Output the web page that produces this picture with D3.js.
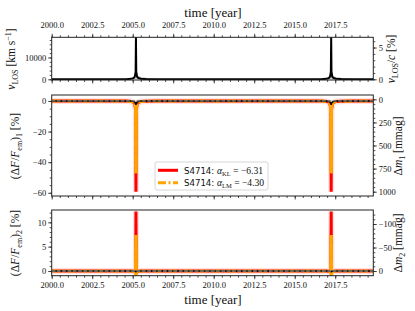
<!DOCTYPE html>
<html>
<head>
<meta charset="utf-8">
<script src="https://cdn.jsdelivr.net/npm/d3@7"></script>
<style>
  body { margin:0; background:#fff; }
  svg text { font-family: "Liberation Serif", serif; fill:#111; }
  .tick text { font-size: 8.5px; }
</style>
</head>
<body>
<div id="chart-area"></div>
<script>
// epochs [year] and the three panels' curves
const years = [2000.0, 2003.0, 2004.6, 2004.9, 2005.05, 2005.13, 2005.18, 2005.2, 2005.22, 2005.27,
  2005.35, 2005.5, 2005.8, 2006.5, 2009.0, 2012.0, 2015.0, 2016.65, 2016.95, 2017.1,
  2017.18, 2017.23, 2017.25, 2017.27, 2017.32, 2017.4, 2017.55, 2017.85, 2018.55, 2019.85];

const vLos = [0, 0, 80, 200, 500, 1200, 3500, 19500, 3500, 1200,
  600, 300, 150, 50, 0, 0, 0, 80, 200, 500,
  1200, 3500, 19500, 3500, 1200, 600, 300, 150, 50, 0];
const vEnvelope = [0, 0, 300, 700, 1200, 1700, 2200, 2500, 2200, 1800,
  1500, 1100, 700, 150, 0, 0, 0, 300, 700, 1200,
  1700, 2200, 2500, 2200, 1800, 1500, 1100, 700, 150, 0];

const dF1KL = [0, 0, -0.1, -0.3, -0.8, -2.0, -6.0, -59.3, -6.0, -2.0,
  -0.9, -0.4, -0.2, -0.05, 0, 0, 0, -0.1, -0.3, -0.8,
  -2.0, -6.0, -59.3, -6.0, -2.0, -0.9, -0.4, -0.2, -0.05, 0];
const dF1LM = [0, 0, -0.1, -0.3, -0.7, -1.6, -4.6, -47.2, -4.6, -1.6,
  -0.7, -0.3, -0.15, -0.05, 0, 0, 0, -0.1, -0.3, -0.7,
  -1.6, -4.6, -47.2, -4.6, -1.6, -0.7, -0.3, -0.15, -0.05, 0];
const dF1Ref = [0, 0, 0, -0.1, -0.3, -0.8, -1.5, -2.5, -1.5, -0.8,
  -0.3, -0.1, 0, 0, 0, 0, 0, 0, -0.1, -0.3,
  -0.8, -1.5, -2.5, -1.5, -0.8, -0.3, -0.1, 0, 0, 0];

const dF2KL = [0, 0, 0, -0.02, -0.05, -0.12, -0.3, 12.2, -0.3, -0.12,
  -0.05, -0.02, 0, 0, 0, 0, 0, 0, -0.02, -0.05,
  -0.12, -0.3, 12.2, -0.3, -0.12, -0.05, -0.02, 0, 0, 0];
const dF2LM = [0, 0, 0, -0.03, -0.08, -0.2, -0.5, 7.4, -0.5, -0.2,
  -0.08, -0.03, 0, 0, 0, 0, 0, 0, -0.03, -0.08,
  -0.2, -0.5, 7.4, -0.5, -0.2, -0.08, -0.03, 0, 0, 0];
const dF2Ref = [0, 0, 0, 0, -0.02, -0.05, -0.1, -0.15, -0.1, -0.05,
  -0.02, 0, 0, 0, 0, 0, 0, 0, 0, -0.02,
  -0.05, -0.1, -0.15, -0.1, -0.05, -0.02, 0, 0, 0, 0];

// tick labels
const xTicks = [2000, 2002.5, 2005, 2007.5, 2010, 2012.5, 2015, 2017.5];
const vTicks = [0, 10000], vcTicks = [0, 5];
const dF1Ticks = [0, -20, -40, -60], dm1Ticks = [0, 250, 500, 750, 1000];
const dF2Ticks = [0, 5, 10], dm2Ticks = [0, -50, -100];

const legendStars = ["S4714:", "S4714:"];
const legendSub = ["KL", "LM"];
const legendAlpha = ["−6.31", "−4.30"];
const legendColors = ["#ff0000", "#ffa500"];

const W = 415, H = 311;
const xL = 51.7, xR = 373.3;
const p1 = { top:37.3, bottom:80 }, p2 = { top:95, bottom:196 }, p3 = { top:210, bottom:275.7 };

const svg = d3.select("#chart-area").append("svg")
    .attr("width", W).attr("height", H);

const x = d3.scaleLinear().domain([2000, 2019.85]).range([xL, xR]);
const yV  = d3.scaleLinear().domain([-318, 19227]).range([p1.bottom, p1.top]);
const yVc = d3.scaleLinear().domain([-0.11, 6.61]).range([p1.bottom, p1.top]);
const yF1 = d3.scaleLinear().domain([-62.1, 3.9]).range([p2.bottom, p2.top]);
const yM1 = d3.scaleLinear().domain([1046.5, -46.5]).range([p2.bottom, p2.top]);
const yF2 = d3.scaleLinear().domain([-0.97, 12.53]).range([p3.bottom, p3.top]);
const yM2 = d3.scaleLinear().domain([10, -129.8]).range([p3.bottom, p3.top]);

const fmtX = d3.format(".1f");

// major + minor ticks for one axis
function axis(maker, scale, major, minor, tr, labels, fmt, pad) {
  const g = svg.append("g").attr("transform", tr);
  g.append("g").call(maker(scale).tickValues(minor).tickSize(2).tickFormat(""))
    .call(a => a.select(".domain").remove());
  g.append("g").call(maker(scale).tickValues(major).tickSize(3.5).tickPadding(pad || 2)
      .tickFormat(labels ? fmt : ""))
    .call(a => a.select(".domain").remove());
  g.selectAll(".tick line").attr("stroke", "#222").attr("stroke-width", 0.8);
  return g;
}

const xMinor = d3.range(2000, 2019.9, 0.5);
axis(d3.axisTop, x, xTicks, xMinor, `translate(0,${p1.top})`, true, fmtX, 5.5);
axis(d3.axisBottom, x, xTicks, xMinor, `translate(0,${p1.bottom})`, false);
axis(d3.axisBottom, x, xTicks, xMinor, `translate(0,${p2.bottom})`, false);
axis(d3.axisBottom, x, xTicks, xMinor, `translate(0,${p3.bottom})`, true, fmtX, 3);

axis(d3.axisLeft, yV, vTicks, d3.range(0, 19001, 2000), `translate(${xL},0)`, true, d3.format("d"));
axis(d3.axisRight, yVc, vcTicks, d3.range(0, 6.5, 1), `translate(${xR},0)`, true, d3.format("d"));
axis(d3.axisLeft, yF1, dF1Ticks, d3.range(-60, 3, 5), `translate(${xL},0)`, true, d3.format("d"));
axis(d3.axisRight, yM1, dm1Ticks, d3.range(0, 1001, 50), `translate(${xR},0)`, true, d3.format("d"));
axis(d3.axisLeft, yF2, dF2Ticks, d3.range(0, 12.5, 1), `translate(${xL},0)`, true, d3.format("d"));
axis(d3.axisRight, yM2, dm2Ticks, d3.range(-120, 1, 10), `translate(${xR},0)`, true, d3.format("d"));

// clip each panel
[p1, p2, p3].forEach((p, i) => {
  svg.append("clipPath").attr("id", "clip" + i).append("rect")
    .attr("x", xL).attr("y", p.top).attr("width", xR - xL).attr("height", p.bottom - p.top);
});

function curve(yScale, vals) {
  return d3.line().x((d, i) => x(years[i])).y(d => yScale(d))(vals);
}
// the spike itself, where dash gaps of the down and up strokes cover each other
function spikes(yScale, vals) {
  return d3.line().defined((d, i) => (i >= 5 && i <= 9) || (i >= 20 && i <= 24))
    .x((d, i) => x(years[i])).y(d => yScale(d))(vals);
}

// panel 1: line-of-sight velocity
const g1 = svg.append("g").attr("clip-path", "url(#clip0)");
g1.append("path")
  .attr("d", d3.area().x((d, i) => x(years[i])).y0(yV(0)).y1(d => yV(d))(vEnvelope))
  .attr("fill", "#c8c8c8");
g1.append("path").attr("d", curve(yV, vLos))
  .attr("fill", "none").attr("stroke", "#000").attr("stroke-width", 2);

// panels 2 and 3: flux changes
function fluxPanel(clip, yScale, kl, lm, ref) {
  const g = svg.append("g").attr("clip-path", clip);
  g.append("path").attr("d", curve(yScale, kl))
    .attr("fill", "none").attr("stroke", "#ffc0c0").attr("stroke-width", 6).attr("opacity", 0.5);
  g.append("path").attr("d", curve(yScale, kl))
    .attr("fill", "none").attr("stroke", legendColors[0]).attr("stroke-width", 3);
  g.append("path").attr("d", curve(yScale, lm))
    .attr("fill", "none").attr("stroke", legendColors[1]).attr("stroke-width", 3)
    .attr("stroke-dasharray", "8,2.5,2,2.5");
  g.append("path").attr("d", spikes(yScale, lm))
    .attr("fill", "none").attr("stroke", legendColors[1]).attr("stroke-width", 3);
  g.append("path").attr("d", curve(yScale, ref))
    .attr("fill", "none").attr("stroke", "#000").attr("stroke-width", 1.5);
  g.append("line")
    .attr("x1", xL).attr("x2", xR).attr("y1", yScale(0)).attr("y2", yScale(0))
    .attr("stroke", "#808080").attr("stroke-width", 1.3).attr("stroke-dasharray", "3.7,1.6");
}
fluxPanel("url(#clip1)", yF1, dF1KL, dF1LM, dF1Ref);
fluxPanel("url(#clip2)", yF2, dF2KL, dF2LM, dF2Ref);

// frames
[p1, p2, p3].forEach(p => {
  svg.append("rect").attr("x", xL).attr("y", p.top)
    .attr("width", xR - xL).attr("height", p.bottom - p.top)
    .attr("fill", "none").attr("stroke", "#222").attr("stroke-width", 1);
});

// legend
const leg = svg.append("g");
leg.append("rect").attr("x", 155).attr("y", 162).attr("width", 113).attr("height", 28)
  .attr("rx", 2).attr("fill", "#fff").attr("fill-opacity", 0.85)
  .attr("stroke", "#ccc").attr("stroke-width", 0.8);
legendStars.forEach((s, i) => {
  const yy = 170.3 + i * 12.4;
  leg.append("line").attr("x1", 158).attr("x2", 178).attr("y1", yy).attr("y2", yy)
    .attr("stroke", legendColors[i]).attr("stroke-width", 3)
    .attr("stroke-dasharray", i ? "8,2.5,2,2.5" : null);
  const t = leg.append("text").attr("x", 184).attr("y", yy + 3.2).attr("font-size", 9.6);
  t.append("tspan").attr("font-family", "DejaVu Sans").attr("font-size", 8.6).text(s + " ");
  t.append("tspan").attr("font-style", "italic").text("α");
  t.append("tspan").attr("font-size", 6.5).attr("dy", 2).text(legendSub[i]);
  t.append("tspan").attr("dy", -2).text(" = " + legendAlpha[i]);
});

// axis labels
function label(xx, yy, parts) {
  const t = svg.append("text")
    .attr("transform", `translate(${xx},${yy}) rotate(-90)`)
    .attr("text-anchor", "middle").attr("font-size", 11.5);
  parts.forEach(p => {
    const s = t.append("tspan").text(p[0]);
    if (p[1]) s.attr("font-style", "italic");
    if (p[2]) s.attr("dy", p[2]);
    if (p[3]) s.attr("font-size", p[3]);
  });
}
svg.append("text").attr("x", 213).attr("y", 16.5).attr("text-anchor", "middle")
  .attr("font-size", 13).text("time [year]");
svg.append("text").attr("x", 213).attr("y", 303.5).attr("text-anchor", "middle")
  .attr("font-size", 13).text("time [year]");

label(15, 59, [["v", 1], ["LOS", 0, 2.5, 8], [" [km s", 0, -2.5], ["−1", 0, -4, 8], ["]", 0, 4]]);
label(395, 59, [["v", 1], ["LOS", 0, 2.5, 8], ["/", 0, -2.5], ["c", 1], [" [%]"]]);
label(19, 146, [["(Δ"], ["F", 1], ["/"], ["F", 1], ["em", 0, 2.5, 8], [")", 0, -2.5], ["1", 0, 2.5, 8], [" [%]", 0, -2.5]]);
label(402, 146, [["Δ"], ["m", 1], ["1", 0, 2.5, 8], [" [mmag]", 0, -2.5]]);
label(19, 243, [["(Δ"], ["F", 1], ["/"], ["F", 1], ["em", 0, 2.5, 8], [")", 0, -2.5], ["2", 0, 2.5, 8], [" [%]", 0, -2.5]]);
label(402, 243, [["Δ"], ["m", 1], ["2", 0, 2.5, 8], [" [mmag]", 0, -2.5]]);
</script>
</body>
</html>
